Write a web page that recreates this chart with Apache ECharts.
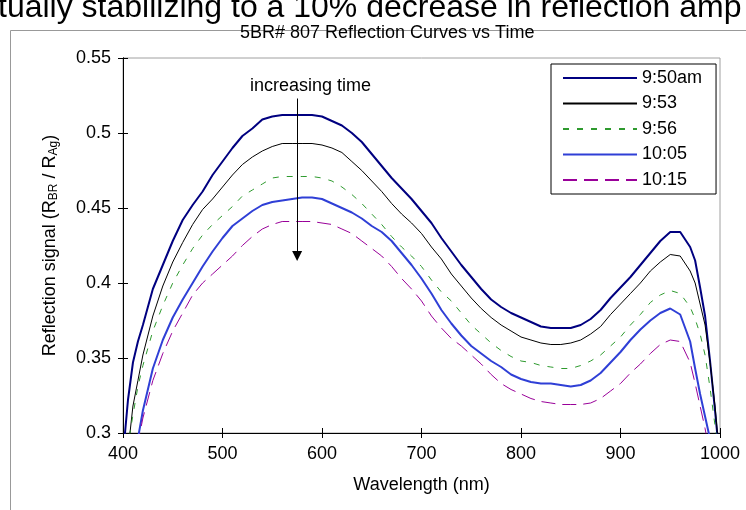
<!DOCTYPE html>
<html>
<head>
<meta charset="utf-8">
<script src="https://cdn.jsdelivr.net/npm/echarts@6/dist/echarts.min.js"></script>
<style>
html,body{margin:0;padding:0;background:#fff;}
#chart{width:746px;height:510px;}
</style>
</head>
<body>
<div id="chart"></div>
<script>
// ---- data ----
const seriesNames = ['9:50am', '9:53', '9:56', '10:05', '10:15'];
const xTicks = [400, 500, 600, 700, 800, 900, 1000];
const yTicks = [0.3, 0.35, 0.4, 0.45, 0.5, 0.55];

const wl950 = [400,402,405,410,415,420,430,440,450,460,470,480,490,500,510,520,530,540,550,560,570,580,590,600,610,620,630,640,650,660,670,680,690,700,710,720,730,740,750,760,770,780,790,800,810,820,830,840,850,860,870,880,890,900,910,920,930,940,950,960,970,975,980,985,990,995,1000];
const r950  = [0.28,0.30,0.322,0.347,0.361,0.372,0.396,0.412,0.428,0.442,0.452,0.461,0.472,0.481,0.490,0.498,0.503,0.509,0.511,0.512,0.512,0.512,0.512,0.511,0.508,0.505,0.500,0.494,0.486,0.478,0.470,0.463,0.456,0.448,0.440,0.430,0.421,0.412,0.404,0.396,0.389,0.384,0.380,0.377,0.374,0.371,0.370,0.370,0.370,0.372,0.376,0.382,0.390,0.397,0.404,0.412,0.420,0.428,0.434,0.434,0.424,0.415,0.397,0.378,0.348,0.315,0.28];

const wl953 = [400,405,407,410,415,420,430,440,450,460,470,480,490,500,510,520,530,540,550,560,570,580,590,600,610,620,630,640,650,660,670,680,690,700,710,720,730,740,750,760,770,780,790,800,810,820,830,840,850,860,870,880,890,900,910,920,930,940,950,960,970,975,980,985,990,995,1000];
const r953  = [0.27,0.295,0.30,0.318,0.335,0.352,0.378,0.398,0.414,0.427,0.439,0.449,0.456,0.464,0.472,0.479,0.484,0.488,0.491,0.493,0.493,0.493,0.493,0.492,0.490,0.487,0.481,0.475,0.468,0.461,0.453,0.446,0.440,0.433,0.424,0.416,0.406,0.398,0.390,0.383,0.377,0.372,0.368,0.364,0.362,0.360,0.359,0.359,0.360,0.362,0.366,0.371,0.379,0.386,0.393,0.400,0.408,0.414,0.419,0.418,0.408,0.400,0.386,0.372,0.347,0.318,0.28];

const wl956 = [400,407,410,415,420,430,440,450,460,470,480,490,500,510,520,530,540,550,560,570,580,590,600,610,620,630,640,650,660,670,680,690,700,710,720,730,740,750,760,770,780,790,800,810,820,830,840,850,860,870,880,890,900,910,920,930,940,950,960,970,975,980,985,990,995,1000];
const r956  = [0.27,0.30,0.312,0.331,0.345,0.368,0.385,0.400,0.412,0.423,0.432,0.439,0.445,0.451,0.458,0.462,0.466,0.470,0.471,0.471,0.471,0.471,0.470,0.468,0.464,0.459,0.453,0.446,0.439,0.431,0.424,0.418,0.411,0.402,0.394,0.388,0.380,0.372,0.366,0.360,0.355,0.351,0.348,0.347,0.345,0.344,0.343,0.343,0.345,0.348,0.352,0.358,0.364,0.372,0.379,0.387,0.392,0.395,0.393,0.384,0.376,0.366,0.352,0.330,0.305,0.28];

const wl1005 = [400,410,416,420,430,440,450,460,470,480,490,500,510,520,530,540,550,560,570,580,590,600,610,620,630,640,650,660,670,680,690,700,710,720,730,740,750,760,770,780,790,800,810,820,830,840,850,860,870,880,890,900,910,920,930,940,950,960,970,975,980,985,990,995];
const r1005  = [0.25,0.275,0.30,0.315,0.343,0.362,0.377,0.389,0.400,0.411,0.421,0.430,0.438,0.443,0.448,0.452,0.454,0.455,0.456,0.457,0.457,0.456,0.453,0.450,0.447,0.443,0.438,0.434,0.428,0.420,0.412,0.403,0.393,0.382,0.373,0.365,0.358,0.353,0.348,0.344,0.339,0.336,0.334,0.333,0.333,0.332,0.331,0.332,0.335,0.340,0.347,0.354,0.362,0.369,0.375,0.380,0.383,0.379,0.361,0.343,0.326,0.311,0.296,0.28];

const wl1015 = [400,410,417,420,430,440,450,460,470,480,490,500,510,520,530,540,550,560,570,580,590,600,610,620,630,640,650,660,670,680,690,700,710,720,730,740,750,760,770,780,790,800,810,820,830,840,850,860,870,880,890,900,910,920,930,940,950,960,970,975,980,985,990];
const r1015  = [0.25,0.28,0.30,0.31,0.335,0.353,0.368,0.380,0.392,0.400,0.406,0.412,0.418,0.425,0.431,0.436,0.439,0.441,0.441,0.441,0.441,0.440,0.439,0.436,0.433,0.428,0.423,0.418,0.411,0.403,0.396,0.388,0.378,0.370,0.363,0.358,0.352,0.346,0.339,0.333,0.329,0.326,0.323,0.321,0.320,0.319,0.319,0.319,0.320,0.323,0.328,0.333,0.340,0.346,0.353,0.359,0.362,0.361,0.347,0.333,0.318,0.303,0.285];

// annotation arrow (data units)
const arrowWl = 575;
const arrowFrom = 0.523;
const arrowTo = 0.418;

// ---- chart ----
const pair = (xs, ys) => xs.map((x, i) => [x, ys[i]]);
const styles = [
  {color:'#000080', width:2, type:'solid'},
  {color:'#000000', width:1, type:'solid'},
  {color:'#2e9a2e', width:1, type:[6,8]},
  {color:'#2f3fd6', width:2, type:'solid'},
  {color:'#990099', width:1, type:[14,7]}
];
const datasets = [pair(wl950,r950), pair(wl953,r953), pair(wl956,r956), pair(wl1005,r1005), pair(wl1015,r1015)];

const FONT = 'Liberation Sans, Arial, sans-serif';
const FS = 18;
const chart = echarts.init(document.getElementById('chart'), null, {renderer:'canvas'});

const series = seriesNames.map((n, i) => ({
  name: n, type: 'line', data: datasets[i], symbol: 'circle', symbolSize: 0, showSymbol: false,
  smooth: false, clip: true, animation: false,
  lineStyle: {color: styles[i].color, width: styles[i].width, type: styles[i].type},
  itemStyle: {color: styles[i].color}
}));
series.push({
  type: 'line', data: [], silent: true, animation: false,
  markLine: {
    silent: true, animation: false,
    symbol: ['none', 'triangle'], symbolSize: [10, 10],
    lineStyle: {color:'#000', width:1, type:'solid'},
    label: {show:false},
    data: [[{coord:[arrowWl, arrowFrom]}, {coord:[arrowWl, arrowTo]}]]
  }
});

const axisBase = {
  axisLine: {show:true, lineStyle:{color:'#000', width:1}},
  splitLine: {show:false}
};

chart.setOption({
  animation: false,
  backgroundColor: '#fff',
  grid: {left:123, right:26, top:58, bottom:77, show:true, borderColor:'#a0a0a0', borderWidth:1, backgroundColor:'transparent'},
  xAxis: [
    Object.assign({type:'value', min:xTicks[0], max:xTicks[xTicks.length-1], interval:100,
      axisTick:{show:true, length:5, inside:false, lineStyle:{color:'#000'}},
      axisLabel:{color:'#000', fontSize:FS, fontFamily:FONT, margin:12, formatter: v => String(v)},
      name:'Wavelength (nm)', nameLocation:'middle', nameGap:43,
      nameTextStyle:{color:'#000', fontSize:FS, fontFamily:FONT}}, axisBase),
    Object.assign({type:'value', min:xTicks[0], max:xTicks[xTicks.length-1], interval:100, position:'bottom',
      axisTick:{show:true, length:5, inside:true, lineStyle:{color:'#000'}}, axisLabel:{show:false}}, axisBase)
  ],
  yAxis: [
    Object.assign({type:'value', min:yTicks[0], max:yTicks[yTicks.length-1], interval:0.05,
      axisTick:{show:true, length:5, inside:false, lineStyle:{color:'#000'}},
      axisLabel:{color:'#000', fontSize:FS, fontFamily:FONT, margin:12},
      name:'Reflection signal (R{s|BR} / R{s|Ag})', nameLocation:'middle', nameGap:63, nameRotate:90,
      nameTextStyle:{color:'#000', fontSize:FS, fontFamily:FONT,
        rich:{s:{fontSize:12, fontFamily:FONT, color:'#000', verticalAlign:'bottom', padding:[8,0,0,0]}}}}, axisBase),
    Object.assign({type:'value', min:yTicks[0], max:yTicks[yTicks.length-1], interval:0.05, position:'left',
      axisTick:{show:true, length:5, inside:true, lineStyle:{color:'#000'}}, axisLabel:{show:false}}, axisBase)
  ],
  legend: {
    data: seriesNames, orient:'vertical', left:551, top:64,
    itemWidth:74, itemHeight:14, itemGap:7.5,
    padding:[5,14,5,11],
    borderColor:'#000', borderWidth:1, backgroundColor:'#fff',
    itemStyle:{opacity:0},
    textStyle:{color:'#000', fontSize:FS, fontFamily:FONT}
  },
  graphic: [
    {type:'rect', silent:true, z:-1, shape:{x:10.5, y:30.5, width:760, height:500}, style:{fill:'none', stroke:'#999', lineWidth:1}},
    {type:'text', silent:true, left:-2, top:-8, style:{text:'tually stabilizing to a 10% decrease in reflection amp', fontSize:32, fontFamily:FONT, fill:'#000'}},
    {type:'text', silent:true, left:240, top:24, style:{text:'5BR# 807 Reflection Curves vs Time', fontSize:FS, fontFamily:FONT, fill:'#000'}},
    {type:'text', silent:true, left:250, top:77, style:{text:'increasing time', fontSize:FS, fontFamily:FONT, fill:'#000'}}
  ],
  series: series
});
</script>
</body>
</html>
